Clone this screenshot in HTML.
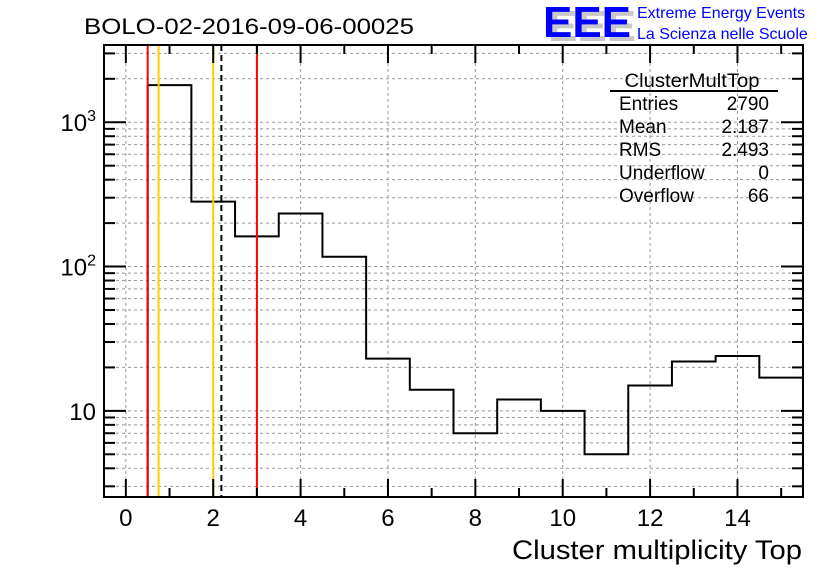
<!DOCTYPE html>
<html><head><meta charset="utf-8"><style>
html,body{margin:0;padding:0;background:#fff;}
svg text{font-family:"Liberation Sans",sans-serif;}
</style></head><body>
<svg id="chart" width="836" height="572" xmlns="http://www.w3.org/2000/svg">
<g id="grid"></g>
<g id="marks"></g>
<g id="axes"></g>
<text x="84" y="34" font-size="22" textLength="330" lengthAdjust="spacingAndGlyphs">BOLO-02-2016-09-06-00025</text>
<g>
<text x="548" y="41" font-size="44" font-weight="bold" fill="#c8c8c8" textLength="88" lengthAdjust="spacingAndGlyphs">EEE</text>
<text x="543" y="37" font-size="44" font-weight="bold" fill="#0000ff" textLength="88" lengthAdjust="spacingAndGlyphs">EEE</text>
<text x="637" y="18" font-size="16" fill="#0000ff">Extreme Energy Events</text>
<text x="637" y="39" font-size="16" fill="#0000ff">La Scienza nelle Scuole</text>
</g>
<g font-size="19">
<text x="692" y="87" text-anchor="middle" textLength="135" lengthAdjust="spacingAndGlyphs">ClusterMultTop</text>
<line x1="610" y1="91" x2="778" y2="91" stroke="#000" stroke-width="2"/>
<text x="619" y="110">Entries</text><text x="769" y="110" text-anchor="end">2790</text>
<text x="619" y="133">Mean</text><text x="769" y="133" text-anchor="end">2.187</text>
<text x="619" y="156">RMS</text><text x="769" y="156" text-anchor="end">2.493</text>
<text x="619" y="179">Underflow</text><text x="769" y="179" text-anchor="end">0</text>
<text x="619" y="202">Overflow</text><text x="769" y="202" text-anchor="end">66</text>
</g>
<text x="802" y="559" font-size="27" text-anchor="end" textLength="290" lengthAdjust="spacingAndGlyphs">Cluster multiplicity Top</text>
</svg>
<script>
const binEdgesLow = [-0.5,0.5,1.5,2.5,3.5,4.5,5.5,6.5,7.5,8.5,9.5,10.5,11.5,12.5,13.5,14.5];
const binCounts = [0,1807,282,162,233,117,23,14,7,12,10,5,15,22,24,17];
const xTicks = [0,2,4,6,8,10,12,14];
const yTickValues = [10,100,1000];
const yTickLabels = ["10","10^2","10^3"];
const markerValues = [0.5,0.75,2.0,2.187,3.0];
const markerKinds = ["red","orange","orange","mean","red"];

const L=104,R=803,T=45,B=497;
const X0=-0.5,X1=15.5,Y0=Math.log10(2.53),Y1=Math.log10(3430);
const xs=v=>L+(v-X0)/(X1-X0)*(R-L);
const ys=v=>B-(Math.log10(v)-Y0)/(Y1-Y0)*(B-T);
const NS="http://www.w3.org/2000/svg";
function mk(tag,parent,attrs){const e=document.createElementNS(NS,tag);for(const k in attrs)e.setAttribute(k,attrs[k]);parent.appendChild(e);return e;}
const grid=document.getElementById('grid'),marks=document.getElementById('marks'),axes=document.getElementById('axes');

xTicks.forEach(t=>{const l=mk('line',grid,{x1:xs(t),x2:xs(t),y1:T,y2:B,stroke:'#999','stroke-dasharray':'3,3','stroke-width':1});

});
for(let d=0;d<=3;d++){for(let m=1;m<=9;m++){const v=m*Math.pow(10,d);const y=ys(v);if(y<T||y>B)continue;
const l=mk('line',grid,{x1:L,x2:R,y1:y,y2:y,stroke:'#999','stroke-dasharray':'3,3','stroke-width':1});


const len=m===1?22:11;
mk('line',axes,{x1:L,x2:L+len,y1:y,y2:y,stroke:'#000','stroke-width':2});
mk('line',axes,{x1:R,x2:R-len,y1:y,y2:y,stroke:'#000','stroke-width':2});}}
let d=`M${xs(binEdgesLow[0])},${B}`;
binCounts.forEach((c,i)=>{const x0=xs(binEdgesLow[i]),x1=xs(binEdgesLow[i]+1);const y=c>0?Math.max(ys(c),T):B;d+=` L${x0},${y} L${x1},${y}`;});
d+=` L${R},${B}`;
const h=mk('path',marks,{d:d,fill:'none',stroke:'#000','stroke-width':2});


markerValues.forEach((v,i)=>{const k=markerKinds[i];const col=k==='red'?'#ff0000':k==='orange'?'#ffcc00':'#000';
const l=mk('line',marks,{x1:xs(v),x2:xs(v),y1:T,y2:B,stroke:col,'stroke-width':2});
if(k==='mean')l.setAttribute('stroke-dasharray','6,4');

});
mk('rect',axes,{x:L,y:T,width:R-L,height:B-T,fill:'none',stroke:'#000','stroke-width':2});
for(let t=0;t<=15;t++){const x=xs(t);const len=t%2===0?18:9;
mk('line',axes,{x1:x,x2:x,y1:B,y2:B-len,stroke:'#000','stroke-width':2});
mk('line',axes,{x1:x,x2:x,y1:T,y2:T+len,stroke:'#000','stroke-width':2});}
xTicks.forEach(t=>{const tx=mk('text',axes,{x:xs(t),y:B+29,'font-size':24,'text-anchor':'middle'});tx.textContent=t;

});
yTickValues.forEach((v,i)=>{const y=ys(v);const lab=yTickLabels[i];const tx=mk('text',axes,{x:L-8,y:y+9,'font-size':24,'text-anchor':'end'});
if(lab.indexOf('^')>=0){const p=lab.split('^');tx.textContent=p[0];const s=mk('tspan',tx,{dy:-10,'font-size':16});s.textContent=p[1];}
else tx.textContent=lab;

});
</script>
</body></html>
